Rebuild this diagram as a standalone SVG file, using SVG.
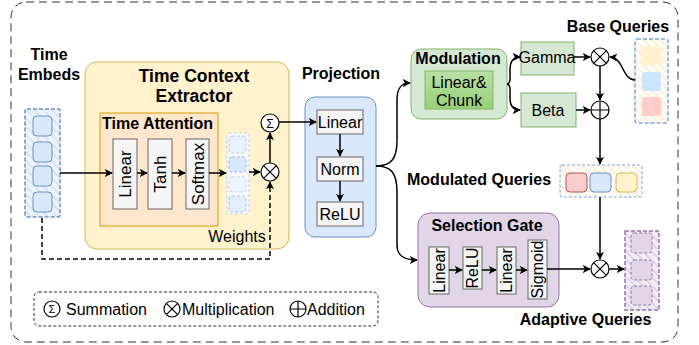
<svg xmlns="http://www.w3.org/2000/svg" width="699" height="345" viewBox="0 0 699 345">
<style>
text{font-family:"Liberation Sans",Arial,sans-serif;fill:#000}
.b{font-weight:bold;font-size:16px}
.r{font-size:16px}
.v{font-size:17px}
.c{text-anchor:middle}
.ln{fill:none;stroke:#000;stroke-width:1.5}
.gray{fill:#f5f5f5;stroke:#666;stroke-width:1}
.op{fill:#fff;stroke:#000;stroke-width:1.2}
.sym{stroke:#000;stroke-width:1.2}
</style>
<defs>
<marker id="ah" viewBox="0 0 10 10" refX="9" refY="5" markerWidth="8" markerHeight="8" markerUnits="userSpaceOnUse" orient="auto">
<path d="M0,0 L10,5 L0,10 L2.5,5 z" fill="#000"/>
</marker>
<pattern id="hb" patternUnits="userSpaceOnUse" width="6" height="6" patternTransform="rotate(-45)">
<rect width="6" height="6" fill="#edf3fc"/><line x1="0" y1="0" x2="0" y2="6" stroke="#d0e0f5" stroke-width="3"/>
</pattern>
<pattern id="hy" patternUnits="userSpaceOnUse" width="6" height="6" patternTransform="rotate(-45)">
<rect width="6" height="6" fill="#fdfbf4"/><line x1="0" y1="0" x2="0" y2="6" stroke="#f4eedb" stroke-width="3"/>
</pattern>
<pattern id="hp" patternUnits="userSpaceOnUse" width="6" height="6" patternTransform="rotate(-45)">
<rect width="6" height="6" fill="#f3eef6"/><line x1="0" y1="0" x2="0" y2="6" stroke="#dccbe4" stroke-width="3"/>
</pattern>
<linearGradient id="gg" x1="0" y1="0" x2="0" y2="1">
<stop offset="0" stop-color="#b9e0a5"/><stop offset="1" stop-color="#97d077"/>
</linearGradient>
</defs>

<rect id="frame" x="11" y="2" width="667" height="340" rx="15" fill="none" stroke="#333" stroke-width="1" stroke-dasharray="8 5"/>

<g id="time-embeds">
<text class="b c" x="49" y="60">Time</text>
<text class="b c" x="49" y="80">Embeds</text>
<rect x="25" y="109" width="35" height="108" rx="2" fill="url(#hb)" stroke="#6c8ebf" stroke-width="1.5" stroke-dasharray="4 2"/>
<rect x="33" y="116" width="19" height="20" rx="4" fill="#dae8fc" stroke="#6c8ebf"/>
<rect x="33" y="142" width="19" height="20" rx="4" fill="#dae8fc" stroke="#6c8ebf"/>
<rect x="33" y="166" width="19" height="20" rx="4" fill="#dae8fc" stroke="#6c8ebf"/>
<rect x="33" y="192" width="19" height="20" rx="4" fill="#dae8fc" stroke="#6c8ebf"/>
</g>

<g id="time-context-extractor">
<rect x="85" y="62" width="204" height="187" rx="12" fill="#fff2cc" stroke="#d6b656"/>
<text class="b c" x="194" y="82" style="font-size:17.5px">Time Context</text>
<text class="b c" x="194" y="102" style="font-size:17.5px">Extractor</text>
<text class="r c" x="237" y="242">Weights</text>
</g>

<g id="time-attention">
<rect x="100" y="113" width="118" height="113" fill="#ffe6cc" stroke="#d79b00"/>
<text class="b" x="102" y="129">Time Attention</text>
</g>
<g id="ta-linear">
<rect class="gray" x="113" y="139" width="24" height="70"/>
<text class="v c" transform="translate(125,174) rotate(-90)" y="6">Linear</text>
</g>
<g id="ta-tanh">
<rect class="gray" x="148" y="139" width="24" height="70"/>
<text class="v c" transform="translate(160,174) rotate(-90)" y="6">Tanh</text>
</g>
<g id="ta-softmax">
<rect class="gray" x="186" y="139" width="23" height="70"/>
<text class="v c" transform="translate(197.5,174) rotate(-90)" y="6">Softmax</text>
</g>

<g id="weights">
<rect x="227" y="133" width="22" height="81" rx="2" fill="#f4f8fd" stroke="#c5d3e6" stroke-dasharray="3 2"/>
<rect x="229" y="136" width="17" height="17" rx="3" fill="#dae8fc" fill-opacity="0.45" stroke="#6c8ebf" stroke-opacity="0.35" stroke-dasharray="3 2"/>
<rect x="229" y="157" width="17" height="15" rx="3" fill="#dae8fc" stroke="#6c8ebf" stroke-opacity="0.6" stroke-dasharray="3 2"/>
<rect x="229" y="177" width="17" height="15" rx="3" fill="#dae8fc" fill-opacity="0.25" stroke="#6c8ebf" stroke-opacity="0.3" stroke-dasharray="3 2"/>
<rect x="229" y="196" width="17" height="16" rx="3" fill="#dae8fc" fill-opacity="0.7" stroke="#6c8ebf" stroke-opacity="0.5" stroke-dasharray="3 2"/>
</g>

<g id="sum-op">
<circle class="op" cx="270" cy="123" r="9"/>
<text x="270" y="127.5" text-anchor="middle" style="font-size:12px">Σ</text>
</g>
<g id="mul-op-1">
<circle class="op" cx="270" cy="172" r="9"/>
<path class="sym" d="M263.6,165.6 L276.4,178.4 M276.4,165.6 L263.6,178.4"/>
</g>

<g id="projection">
<text class="b c" x="341" y="79">Projection</text>
<rect x="305" y="97" width="71" height="140" rx="10" fill="#dae8fc" stroke="#6c8ebf"/>
</g>
<g id="proj-linear">
<rect class="gray" x="317" y="110" width="46" height="24"/>
<text class="r c" x="340" y="127.7">Linear</text>
</g>
<g id="proj-norm">
<rect class="gray" x="317" y="157" width="46" height="24"/>
<text class="r c" x="340" y="174.7">Norm</text>
</g>
<g id="proj-relu">
<rect class="gray" x="317" y="202" width="46" height="24"/>
<text class="r c" x="340" y="219.7">ReLU</text>
</g>

<g id="modulation">
<rect x="411" y="49" width="96" height="70" rx="10" fill="#d5e8d4" stroke="#82b366"/>
<text class="b c" x="458" y="64">Modulation</text>
<rect x="425" y="71" width="68" height="38" fill="url(#gg)" stroke="#82b366"/>
<text class="r c" x="459" y="88">Linear&amp;</text>
<text class="r c" x="459" y="106">Chunk</text>
</g>

<g id="gamma">
<rect x="521" y="42" width="53" height="33" fill="#d5e8d4" stroke="#82b366"/>
<text class="r c" x="547" y="63">Gamma</text>
</g>
<g id="beta">
<rect x="521" y="93" width="55" height="34" fill="#d5e8d4" stroke="#82b366"/>
<text class="r c" x="548" y="116">Beta</text>
</g>

<g id="mul-op-2">
<circle class="op" cx="600" cy="57" r="9"/>
<path class="sym" d="M593.6,50.6 L606.4,63.4 M606.4,50.6 L593.6,63.4"/>
</g>
<g id="add-op">
<circle class="op" cx="600" cy="110" r="9"/>
<path class="sym" d="M591,110 L609,110 M600,101 L600,119"/>
</g>

<g id="base-queries">
<text class="b c" x="618" y="32">Base Queries</text>
<rect x="635" y="39" width="33" height="84" rx="2" fill="url(#hy)" stroke="#7ea6e0" stroke-width="1.5" stroke-dasharray="4 2"/>
<rect x="642" y="46" width="19" height="19" rx="3" fill="#fff2cc"/>
<rect x="642" y="72" width="19" height="19" rx="3" fill="#cce5ff"/>
<rect x="642" y="97" width="19" height="19" rx="3" fill="#ffcccc"/>
</g>

<g id="modulated-queries">
<text class="b" x="407" y="185">Modulated Queries</text>
<rect x="560" y="165" width="82" height="32" rx="2" fill="url(#hy)" stroke="#7ea6e0" stroke-dasharray="3 2"/>
<rect x="566" y="173" width="21" height="19" rx="4" fill="#f8cecc" stroke="#b85450"/>
<rect x="590" y="173" width="21" height="19" rx="4" fill="#dae8fc" stroke="#6c8ebf"/>
<rect x="616" y="173" width="21" height="19" rx="4" fill="#fff2cc" stroke="#d6b656"/>
</g>

<g id="selection-gate">
<rect x="418" y="213" width="141" height="94" rx="12" fill="#e1d5e7" stroke="#9673a6"/>
<text class="b c" x="487" y="231">Selection Gate</text>
</g>
<g id="sg-linear-1">
<rect class="gray" x="429" y="247" width="20" height="47"/>
<text class="r c" transform="translate(439,270.5) rotate(-90)" y="5.5">Linear</text>
</g>
<g id="sg-relu">
<rect class="gray" x="463" y="247" width="19" height="42"/>
<text class="r c" transform="translate(472.5,268) rotate(-90)" y="5.5">ReLU</text>
</g>
<g id="sg-linear-2">
<rect class="gray" x="497" y="247" width="19" height="47"/>
<text class="r c" transform="translate(506.5,270.5) rotate(-90)" y="5.5">Linear</text>
</g>
<g id="sg-sigmoid">
<rect class="gray" x="528" y="240" width="19" height="59"/>
<text class="r c" transform="translate(537.5,269.5) rotate(-90)" y="5.5">Sigmoid</text>
</g>

<g id="mul-op-3">
<circle class="op" cx="600" cy="269" r="9"/>
<path class="sym" d="M593.6,262.6 L606.4,275.4 M606.4,262.6 L593.6,275.4"/>
</g>

<g id="adaptive-queries">
<rect x="625" y="231" width="34" height="79" fill="url(#hp)" stroke="#9673a6" stroke-width="1.5" stroke-dasharray="4 2"/>
<rect x="631" y="233" width="21" height="20" rx="3" fill="#e1d5e7" stroke="#9673a6" stroke-dasharray="3 2"/>
<rect x="631" y="260" width="21" height="20" rx="3" fill="#e1d5e7" stroke="#9673a6" stroke-dasharray="3 2"/>
<rect x="631" y="286" width="21" height="19" rx="3" fill="#e1d5e7" stroke="#9673a6" stroke-dasharray="3 2"/>
<text class="b c" x="585.5" y="325">Adaptive Queries</text>
</g>

<g id="legend">
<rect x="34" y="292" width="344" height="34" rx="5" fill="none" stroke="#333" stroke-dasharray="3 2"/>
<circle class="op" cx="52" cy="309" r="8"/>
<text x="52" y="313" text-anchor="middle" style="font-size:11px">Σ</text>
<text class="r" x="66" y="315">Summation</text>
<circle class="op" cx="172" cy="309" r="8"/>
<path class="sym" d="M166.3,303.3 L177.7,314.7 M177.7,303.3 L166.3,314.7"/>
<text class="r" x="182" y="315">Multiplication</text>
<circle class="op" cx="298" cy="309" r="8"/>
<path class="sym" d="M290,309 L306,309 M298,301 L298,317"/>
<text class="r" x="307" y="315">Addition</text>
</g>

<g id="connectors">
<path class="ln" d="M60,173 L112,173" marker-end="url(#ah)"/>
<path class="ln" d="M137,173 L147,173" marker-end="url(#ah)"/>
<path class="ln" d="M172,173 L185,173" marker-end="url(#ah)"/>
<path class="ln" d="M209,173 L226,173" marker-end="url(#ah)"/>
<path class="ln" d="M249,172 L260,172" marker-end="url(#ah)"/>
<path class="ln" d="M270,163 L270,133" marker-end="url(#ah)"/>
<path class="ln" d="M42,218 L42,259 L270,259 L270,182" stroke-dasharray="5 3" marker-end="url(#ah)"/>
<path class="ln" d="M279,122 L316,122" marker-end="url(#ah)"/>
<path class="ln" d="M340,134 L340,156" marker-end="url(#ah)"/>
<path class="ln" d="M340,181 L340,201" marker-end="url(#ah)"/>
<path class="ln" d="M376,166 C392,166 397,158 397,140 L397,100 C397,88 401,83 410,83" marker-end="url(#ah)"/>
<path class="ln" d="M376,166 C392,166 397,174 397,192 L397,245 C397,256 404,260 417,260" marker-end="url(#ah)"/>
<path class="ln" d="M507,84 C511,84 510,76 510,70 C510,62 513,57 520,57" marker-end="url(#ah)"/>
<path class="ln" d="M507,84 C511,84 510,92 510,98 C510,105 513,110 520,110" marker-end="url(#ah)"/>
<path class="ln" d="M574,57 L590,57" marker-end="url(#ah)"/>
<path class="ln" d="M576,110 L590,110" marker-end="url(#ah)"/>
<path class="ln" d="M635,80 C622,80 624,58 610,57" marker-end="url(#ah)"/>
<path class="ln" d="M600,66 L600,100" marker-end="url(#ah)"/>
<path class="ln" d="M600,119 L600,164" marker-end="url(#ah)"/>
<path class="ln" d="M600,197 L600,259" marker-end="url(#ah)"/>
<path class="ln" d="M449,270 L462,270" marker-end="url(#ah)"/>
<path class="ln" d="M482,270 L496,270" marker-end="url(#ah)"/>
<path class="ln" d="M516,270 L527,270" marker-end="url(#ah)"/>
<path class="ln" d="M547,269 L590,269" marker-end="url(#ah)"/>
<path class="ln" d="M609,269 L624,269" marker-end="url(#ah)"/>
</g>
</svg>
